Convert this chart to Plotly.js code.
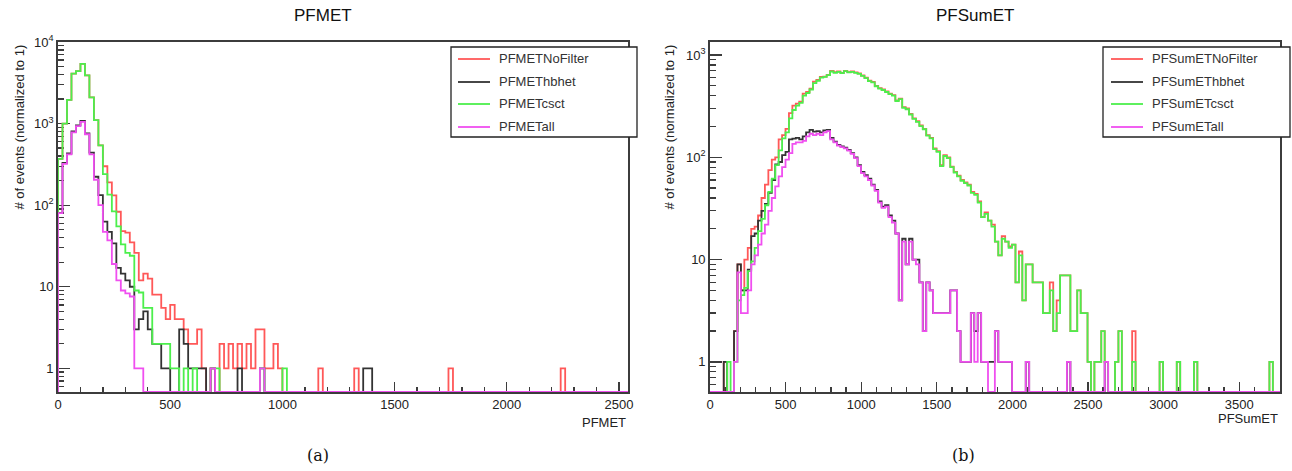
<!DOCTYPE html>
<html>
<head>
<meta charset="utf-8">
<script src="https://cdn.plot.ly/plotly-3.0.1.min.js"></script>
<style>
  html, body { margin: 0; padding: 0; background: #ffffff; }
  #chart { width: 1292px; height: 471px; }
</style>
</head>
<body>
<div id="chart"></div>
<script>
// ---------------- DATA ----------------
// Panel (a): PFMET histograms, bin width 20, bins start at 0
const metBinWidth = 20;
const metXMax = 2540;
const metNames = ["PFMETNoFilter", "PFMEThbhet", "PFMETcsct", "PFMETall"];
const metNoFilter = [
  370,1000,1950,4100,4400,5400,3900,2100,1100,540,
  300,190,132,83,48,46,35,26,12,14.5,
  12.6,8,8,5.5,4,6,4,4,3,2,
  2,3,1,0,1,0,2,1,2,1,
  2,1,2,1,3,3,1,1,2,1,
  0,0,0,0,0,0,0,0,1,0,
  0,0,0,0,0,0,1,0,0,0,
  0,0,0,0,0,0,0,0,0,0,
  0,0,0,0,0,0,0,1,0,0,
  0,0,0,0,0,0,0,0,0,0,
  0,0,0,0,0,0,0,0,0,0,
  0,0,1
];
const metHbhet = [
  80,330,430,800,950,1080,760,440,223,133,
  63,47,34,17,14.5,12,10,3,4,5,
  3,2,2,1,1,0,0,3,2,1,
  1,1,1,0,1,0,0,0,0,0,
  1,0,0,0,0,1,0,0,0,0,
  0,0,0,0,0,0,0,0,0,0,
  0,0,0,0,0,0,0,0,1,1
];
const metCsct = [
  370,1000,1950,4100,4400,5400,3900,2100,1100,540,
  240,135,84,55,33,26,24,9,8.5,5.5,
  5.5,2,2,2,2,1,1,0,1,0,
  1,0,0,0,1,1,0,0,0,0,
  0,0,0,0,0,1,0,0,0,0,
  1
];
const metAll = [
  80,320,420,780,930,1050,740,420,205,100,
  47,37,19,12,9,8.3,7.6,1,1,0,
  0,0,0,0,0,0,0,0,0,0,
  0,0,0,0,1,0,0,0,0,0,
  0,0,0,0,0,1
];

// Panel (b): PFSumET histograms, bin width 22.7, bins start at 0
const sumBinWidth = 22.7;
const sumXMax = 3770;
const sumNames = ["PFSumETNoFilter", "PFSumEThbhet", "PFSumETcsct", "PFSumETall"];
const sumNoFilter = [
  0,0,0,0,1,0,0,2,9,5,
  10,13,20,21,27,40,54,75,95,100,
  150,165,190,270,320,335,350,420,435,470,
  550,570,610,615,640,700,680,690,670,700,
  680,690,675,660,630,600,560,545,500,475,
  460,440,420,405,360,375,310,300,265,240,
  225,205,190,165,155,122,115,84,105,100,
  81,72,66,60,57,54,46,44,37,26,
  29,24,22,15,11,17,15,13.5,14,6,
  12,4,9,9,6,6,6,3,3,6,
  2,4,7,7,7,2,2,5,3,3,
  1,0,1,1,2,1,0,0,1,2,
  0,0,0,2,0,0,0,0,0,0,
  0,1,0,0,0,0,1,0,0,0,
  0,1,0,0,0,0,0,0,0,0,
  0,0,0,0,0,0,0,0,0,0,
  0,0,0,1
];
const sumHbhet = [
  0,0,0,0,1,0,0,2,9,5,
  5,8,17,18,24,30,35,45,60,85,
  90,105,113,150,152,155,150,160,175,185,
  178,180,175,183,185,155,142,132,128,124,
  118,110,100,84,72,67,62,54,48,37,
  33,34,27,24,18,4,16,9,16,10,
  10,6,2,6,5,3,3,3,3,3,
  5,5,2,1,1,1,3,2,3,1,
  1,1,1,2,1,1,1,1,0,0,
  0,0,1,0,0,0,0,0,0,0,
  0,0,0,0,1,0,0,0,0,0,
  0,0,0,0,0,1
];
const sumCsct = [
  0,0,0,0,0,1,0,1,4,4.5,
  5.3,7.7,9.6,13,19,25,34,46,62,84,
  117,153,175,240,290,320,340,400,425,460,
  530,560,600,610,635,690,670,685,665,695,
  675,685,670,655,625,595,555,540,495,470,
  455,435,415,400,355,370,305,295,262,238,
  222,202,188,163,153,120,113,82,103,98,
  80,71,65,59,56,53,45,43,36,26,
  28,24,21,15,11,16,15,13,14,6,
  11,4,9,9,6,6,6,3,3,5,
  2,3,7,7,7,2,2,5,3,3,
  1,0,1,1,2,1,0,0,1,2,
  0,0,0,1,0,0,0,0,0,0,
  0,1,0,0,0,0,1,0,0,0,
  0,1,0,0,0,0,0,0,0,0,
  0,0,0,0,0,0,0,0,0,0,
  0,0,0,1
];
const sumAll = [
  0,0,0,0,0,0,0,1,7.5,3,
  3,5,9,11,14,18,22,30,40,52,
  65,80,95,110,135,140,140,145,160,170,
  165,170,165,175,180,150,140,130,126,122,
  116,108,98,82,70,65,60,53,47,36,
  32,33,26,23,18,4,15,9,15,10,
  9,6,2,6,5,3,3,3,3,3,
  5,5,2,1,1,1,3,1,3,1,
  1,0,0,2,1,1,1,1,0,0,
  0,0,1,0,0,0,0,0,0,0,
  0,0,0,0,1,0,0,0,0,0,
  0,0,0,0,0,1
];

const metXTicks = [0, 500, 1000, 1500, 2000, 2500];
const sumXTicks = [0, 500, 1000, 1500, 2000, 2500, 3000, 3500];
const metYTicks = [1, 10, 100, 1000, 10000];
const metYTickText = ["1", "10", "10<sup>2</sup>", "10<sup>3</sup>", "10<sup>4</sup>"];
const sumYTicks = [1, 10, 100, 1000];
const sumYTickText = ["1", "10", "10<sup>2</sup>", "10<sup>3</sup>"];

// ---------------- STYLE ----------------
const seriesColors = ["#ff5858", "#333333", "#4cef4c", "#f04ff0"];
const drawOrder = [0, 1, 2, 3];
const W = 1292, H = 471;
const metYRange = [-0.29, 4.0];
const sumYRange = [-0.294, 3.127];
const FONT = "Liberation Sans, Arial, Helvetica, sans-serif";
const axisCol = "#3c3c3c";

function stepTrace(vals, binW, xMax, floorVal, color, xa, ya, name) {
  const x = [0], y = [floorVal];
  vals.forEach((v, i) => { x.push(i * binW); y.push(v > 0 ? v : floorVal); });
  x.push(vals.length * binW); y.push(floorVal);
  x.push(xMax); y.push(floorVal);
  return {
    type: "scatter", mode: "lines", x: x, y: y, name: name,
    xaxis: xa, yaxis: ya, showlegend: false, hoverinfo: "skip",
    line: { shape: "hv", color: color, width: 1.8 }
  };
}

function minorLogVals(lo, hi) {
  const out = [];
  for (let d = Math.floor(Math.log10(lo)); d <= Math.ceil(Math.log10(hi)); d++) {
    for (let m = 2; m <= 9; m++) {
      const v = m * Math.pow(10, d);
      if (v > lo && v < hi) out.push(v);
    }
  }
  return out;
}

const metSeries = [metNoFilter, metHbhet, metCsct, metAll];
const sumSeries = [sumNoFilter, sumHbhet, sumCsct, sumAll];
const metFloor = Math.pow(10, metYRange[0]);
const sumFloor = Math.pow(10, sumYRange[0]);

const traces = [];
drawOrder.forEach(i => traces.push(stepTrace(metSeries[i], metBinWidth, metXMax, metFloor, seriesColors[i], "x", "y", metNames[i])));
drawOrder.forEach(i => traces.push(stepTrace(sumSeries[i], sumBinWidth, sumXMax, sumFloor, seriesColors[i], "x2", "y2", sumNames[i])));

const px = v => v / W;          // paper x from pixel
const py = v => 1 - v / H;      // paper y from pixel

function xAxis(domain, range, ticks) {
  return {
    domain: domain, range: range, showgrid: false, zeroline: false,
    showline: true, mirror: true, linecolor: axisCol, linewidth: 1.8,
    ticks: "inside", ticklen: 10, tickwidth: 1.3, tickcolor: axisCol,
    tickmode: "array", tickvals: ticks, ticktext: ticks.map(String),
    minor: { ticks: "inside", ticklen: 5, tickwidth: 1.3, tickcolor: axisCol, dtick: 100, tick0: 0, showgrid: false },
    tickfont: { family: FONT, size: 13, color: "#222" },
    layer: "below traces", fixedrange: true
  };
}
function yAxis(domain, range, ticks, text, anchor) {
  return {
    type: "log", domain: domain, range: range, anchor: anchor,
    showgrid: false, zeroline: false,
    showline: true, mirror: true, linecolor: axisCol, linewidth: 1.8,
    ticks: "inside", ticklen: 12, tickwidth: 1.3, tickcolor: axisCol,
    tickmode: "array", tickvals: ticks, ticktext: text,
    minor: { ticks: "inside", ticklen: 6, tickwidth: 1.3, tickcolor: axisCol,
             tickmode: "array", tickvals: minorLogVals(Math.pow(10, range[0]), Math.pow(10, range[1])), showgrid: false },
    tickfont: { family: FONT, size: 13, color: "#222" },
    layer: "below traces", fixedrange: true
  };
}

const yDom = [py(392), py(42)];
const layout = {
  width: W, height: H, margin: { l: 0, r: 0, t: 0, b: 0 },
  paper_bgcolor: "#ffffff", plot_bgcolor: "#ffffff", showlegend: false,
  xaxis: Object.assign(xAxis([px(58), px(628)], [0, metXMax], metXTicks), { anchor: "y" }),
  yaxis: yAxis(yDom, metYRange, metYTicks, metYTickText, "x"),
  xaxis2: Object.assign(xAxis([px(710), px(1280)], [0, sumXMax], sumXTicks), { anchor: "y2" }),
  yaxis2: yAxis(yDom, sumYRange, sumYTicks, sumYTickText, "x2"),
  shapes: [], annotations: []
};

// titles, axis titles, captions
const ann = layout.annotations;
const txt = (t, x, y, opts) => ann.push(Object.assign({
  text: t, xref: "paper", yref: "paper", x: px(x), y: py(y), showarrow: false,
  xanchor: "center", yanchor: "middle",
  font: { family: FONT, size: 13, color: "#222" }
}, opts || {}));
txt("PFMET", 323, 16, { font: { family: FONT, size: 17, color: "#111" } });
txt("PFSumET", 975, 16, { font: { family: FONT, size: 17, color: "#111" } });
txt("# of events (normalized to 1)", 19, 43, { textangle: -90, yanchor: "top" });
txt("# of events (normalized to 1)", 669, 43, { textangle: -90, yanchor: "top" });
txt("PFMET", 628, 422, { xanchor: "right" });
txt("PFSumET", 1280, 418, { xanchor: "right" });
txt("(a)", 318, 455, { font: { family: "DejaVu Serif, Liberation Serif, serif", size: 16, color: "#111" } });
txt("(b)", 964, 455, { font: { family: "DejaVu Serif, Liberation Serif, serif", size: 16, color: "#111" } });

// legends (ROOT-style boxes)
function legendBox(names, x0, x1, lineX0, lineX1, textX) {
  layout.shapes.push({ type: "rect", xref: "paper", yref: "paper",
    x0: px(x0), x1: px(x1), y0: py(137), y1: py(47),
    line: { color: "#222", width: 1.3 }, fillcolor: "rgba(255,255,255,1)", layer: "above" });
  const rows = [59, 82, 104, 127];
  names.forEach((n, i) => {
    layout.shapes.push({ type: "line", xref: "paper", yref: "paper",
      x0: px(lineX0), x1: px(lineX1), y0: py(rows[i]), y1: py(rows[i]),
      line: { color: seriesColors[i], width: 1.8 }, layer: "above" });
    txt(n, textX, rows[i], { xanchor: "left", font: { family: FONT, size: 13, color: "#333" } });
  });
}
legendBox(metNames, 451, 637, 458, 490, 497);
legendBox(sumNames, 1103, 1290, 1111, 1143, 1150);

Plotly.newPlot("chart", traces, layout, { staticPlot: true, displayModeBar: false });
</script>
</body>
</html>
